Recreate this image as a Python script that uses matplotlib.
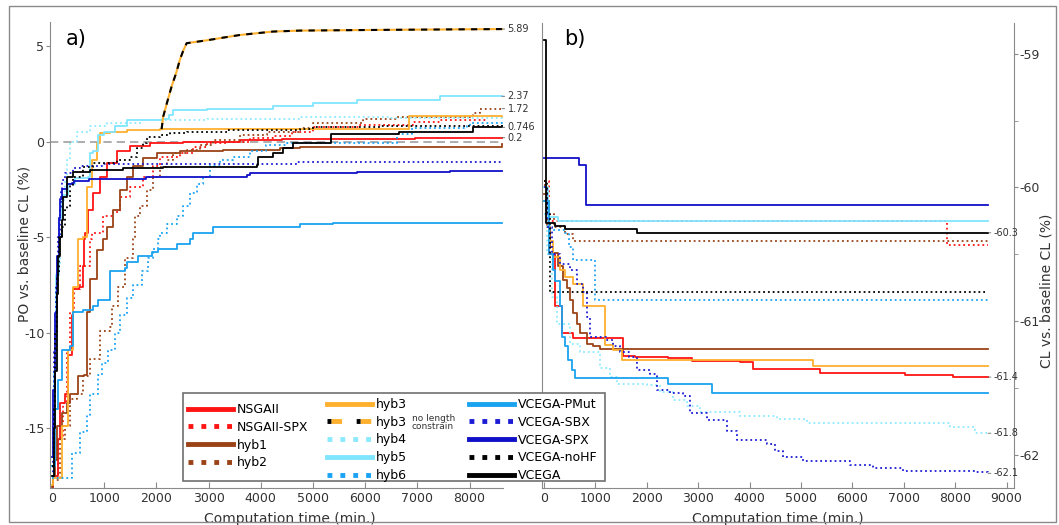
import matplotlib
matplotlib.use("Agg")
import matplotlib.pyplot as plt
from matplotlib.lines import Line2D
from matplotlib.patches import Rectangle
from matplotlib.ticker import MultipleLocator

plt.rcParams["axes.unicode_minus"] = False

# ---------------- panel a) PO vs. baseline CL (%) ----------------
# time (min.) / value pairs
a_nsgaii_t = [0, 20, 121, 153, 249, 313, 377, 409, 520, 600, 620, 632, 696, 792, 920, 1048, 1239, 1494, 1877, 2516, 3600, 4400, 6900, 6950, 8620]
a_nsgaii_v = [-18.2, -17.5, -15.6, -13.7, -13.2, -11.2, -9.1, -7.7, -7.6, -6.5, -5.1, -4.8, -3.6, -2.7, -1.83, -1.13, -0.52, -0.23, -0.09, 0.0, 0.09, 0.12, 0.12, 0.2, 0.2]

a_nsgaii_spx_t = [0, 50, 120, 217, 281, 345, 420, 536, 728, 760, 983, 1175, 1303, 1494, 1750, 1941, 2069, 2452, 2708, 2963, 3346, 3800, 4236, 4600, 5006, 5900, 6920, 7433, 8340]
a_nsgaii_spx_v = [-17.6, -17.4, -15.5, -13.7, -10.9, -8.9, -7.7, -6.5, -5.1, -4.8, -3.9, -3.7, -2.9, -2.36, -1.83, -1.3, -0.79, -0.6, -0.26, -0.09, 0.0, 0.2, 0.3, 0.5, 0.77, 0.87, 1.0, 1.13, 1.2]

a_hyb1_t = [0, 20, 57, 100, 200, 281, 345, 505, 620, 664, 728, 855, 983, 1048, 1175, 1303, 1431, 1558, 1750, 2005, 2452, 3282, 4368, 4750, 8620]
a_hyb1_v = [-18.1, -17.5, -16.7, -14.9, -14.2, -13.7, -13.2, -12.3, -12.2, -8.9, -7.2, -5.7, -5.1, -4.45, -3.6, -2.53, -1.83, -1.3, -0.87, -0.61, -0.52, -0.44, -0.32, -0.26, -0.15]

a_hyb2_t = [0, 153, 249, 345, 473, 600, 728, 920, 1111, 1143, 1271, 1398, 1558, 1590, 1686, 1814, 1941, 2069, 2197, 2324, 2580, 2835, 3091, 3600, 4112, 4750, 5006, 5964, 6603, 8071, 8199, 8620]
a_hyb2_v = [-17.7, -15.6, -14.9, -13.5, -13.2, -12.3, -11.4, -9.9, -9.7, -8.6, -7.6, -6.1, -5.1, -3.9, -3.4, -2.53, -1.83, -1.31, -0.96, -0.61, -0.44, -0.17, 0.09, 0.35, 0.52, 0.7, 0.96, 1.17, 1.31, 1.48, 1.69, 1.72]

a_hyb3_t = [0, 20, 185, 313, 408, 505, 600, 664, 760, 855, 920, 1111, 1431, 2070, 4750, 6820, 6830, 8620]
a_hyb3_v = [-18.0, -17.6, -14.9, -10.9, -7.6, -5.1, -5.0, -2.36, -0.96, -0.09, 0.44, 0.52, 0.61, 0.68, 0.68, 0.64, 1.32, 1.3]

a_hyb3nl_t = [2100, 2130, 2200, 2293, 2380, 2452, 2520, 2580, 2963, 3300, 3600, 4236, 4750, 6000, 7500, 8620]
a_hyb3nl_v = [0.65, 1.3, 2.0, 2.9, 3.6, 4.3, 4.8, 5.15, 5.3, 5.45, 5.58, 5.76, 5.81, 5.84, 5.87, 5.89]

a_hyb4_t = [0, 30, 60, 100, 150, 190, 217, 250, 281, 345, 473, 728, 1048, 1686, 2963, 4750, 6500, 8620]
a_hyb4_v = [-17.5, -13.0, -9.0, -6.5, -4.8, -4.0, -3.05, -2.0, -0.96, 0.0, 0.52, 0.82, 0.96, 1.13, 1.19, 1.26, 1.22, 1.15]

a_hyb5_t = [0, 40, 80, 130, 200, 300, 440, 696, 728, 780, 888, 1000, 1200, 1431, 2101, 2250, 2320, 2963, 4236, 5000, 5837, 7433, 8620]
a_hyb5_v = [-17.0, -12.0, -7.0, -4.0, -2.8, -2.2, -1.9, -1.83, -0.6, -0.5, 0.35, 0.5, 0.8, 1.13, 1.19, 1.4, 1.66, 1.69, 1.87, 2.0, 2.17, 2.37, 2.37]

a_hyb6_t = [0, 377, 536, 664, 728, 888, 951, 1079, 1207, 1303, 1431, 1558, 1718, 1846, 1941, 2037, 2069, 2197, 2389, 2516, 2644, 2772, 2899, 3027, 3218, 3473, 3800, 4100, 4500, 6530, 6600, 6900, 7944, 8000, 8620]
a_hyb6_v = [-17.6, -16.3, -15.2, -14.3, -13.2, -12.2, -11.6, -10.9, -10.0, -9.1, -8.2, -7.5, -6.8, -6.1, -5.6, -5.1, -4.8, -4.3, -3.9, -3.4, -2.7, -2.2, -1.83, -1.3, -0.96, -0.79, -0.5, -0.2, -0.05, -0.05, 0.4, 0.72, 0.8, 0.95, 1.05]

a_pmut_t = [0, 60, 120, 185, 345, 409, 600, 792, 888, 1050, 1111, 1398, 1430, 1654, 1910, 2037, 2389, 2644, 2708, 3091, 3473, 4750, 5389, 8620]
a_pmut_v = [-17.0, -14.0, -12.5, -10.9, -10.7, -8.9, -8.8, -8.6, -8.3, -8.3, -6.8, -6.6, -6.3, -6.0, -5.8, -5.6, -5.35, -5.1, -4.8, -4.5, -4.45, -4.3, -4.28, -4.25]

a_sbx_t = [0, 20, 45, 80, 120, 150, 175, 200, 250, 400, 540, 1000, 4700, 8620]
a_sbx_v = [-17.5, -15.0, -11.0, -7.5, -5.0, -3.5, -2.5, -2.0, -1.66, -1.4, -1.26, -1.17, -1.08, -1.05]

a_spx_t = [0, 25, 50, 90, 130, 160, 200, 280, 377, 420, 700, 1800, 3730, 3800, 5837, 7625, 8620]
a_spx_v = [-16.5, -13.0, -9.0, -6.0, -4.0, -3.0, -2.5, -2.2, -2.18, -2.05, -1.97, -1.83, -1.75, -1.66, -1.6, -1.55, -1.55]

a_nohf_t = [0, 30, 60, 100, 140, 200, 250, 281, 345, 409, 600, 792, 1239, 1494, 1622, 1750, 1814, 2069, 2260, 2580, 3346, 4750, 5000, 6300, 8620]
a_nohf_v = [-17.0, -14.0, -10.0, -7.0, -5.0, -4.5, -3.6, -3.4, -2.3, -1.83, -1.31, -1.13, -0.96, -0.79, -0.35, -0.09, 0.26, 0.35, 0.44, 0.52, 0.61, 0.65, 0.75, 0.82, 0.85]

a_vcega_t = [0, 30, 60, 90, 120, 150, 185, 215, 281, 409, 728, 1366, 2133, 3930, 3953, 4236, 4427, 4619, 5340, 6640, 8070, 8620]
a_vcega_v = [-17.5, -15.0, -12.0, -8.0, -6.0, -5.0, -4.1, -2.9, -1.83, -1.57, -1.48, -1.4, -1.31, -1.22, -0.79, -0.61, -0.35, -0.06, 0.39, 0.5, 0.746, 0.746]

# ---------------- panel b) CL vs. baseline CL (%) ----------------
b_nsgaii_t = [0, 100, 214, 344, 570, 1543, 1780, 2419, 2873, 3813, 4073, 5370, 7023, 7963, 8640]
b_nsgaii_v = [-60.1, -60.5, -60.89, -61.09, -61.13, -61.26, -61.27, -61.28, -61.3, -61.31, -61.36, -61.39, -61.405, -61.42, -61.42]

b_nsgaii_spx_t = [0, 91, 7846, 8640]
b_nsgaii_spx_v = [-59.95, -60.25, -60.43, -60.43]

b_hyb1_t = [0, 60, 120, 181, 279, 376, 441, 506, 570, 636, 700, 830, 960, 1089, 8640]
b_hyb1_v = [-60.05, -60.3, -60.45, -60.49, -60.59, -60.69, -60.75, -60.84, -60.94, -61.02, -61.09, -61.17, -61.19, -61.21, -61.21]

b_hyb2_t = [0, 60, 200, 400, 567, 8640]
b_hyb2_v = [-59.98, -60.2, -60.3, -60.35, -60.405, -60.405]

b_hyb3_t = [0, 100, 181, 311, 408, 570, 765, 1187, 1349, 1510, 5227, 8640]
b_hyb3_v = [-60.1, -60.4, -60.52, -60.62, -60.67, -60.72, -60.89, -61.18, -61.22, -61.29, -61.335, -61.335]

b_hyb4_t = [0, 60, 150, 246, 506, 700, 1089, 1284, 1414, 2000, 2257, 2516, 2775, 3035, 3813, 4527, 5110, 7899, 8385, 8640]
b_hyb4_v = [-60.2, -60.5, -60.82, -61.02, -61.17, -61.23, -61.35, -61.42, -61.47, -61.48, -61.53, -61.59, -61.64, -61.68, -61.71, -61.73, -61.76, -61.79, -61.84, -61.84]

b_hyb5_t = [0, 70, 280, 8640]
b_hyb5_v = [-60.0, -60.22, -60.255, -60.255]

b_hyb6_t = [0, 50, 120, 400, 480, 560, 990, 8640]
b_hyb6_v = [-60.1, -60.28, -60.32, -60.34, -60.45, -60.54, -60.84, -60.84]

b_pmut_t = [0, 100, 181, 214, 311, 344, 408, 473, 538, 603, 2419, 3275, 8640]
b_pmut_v = [-60.1, -60.5, -60.62, -60.7, -60.89, -61.12, -61.19, -61.29, -61.37, -61.43, -61.47, -61.54, -61.54]

b_sbx_t = [0, 60, 150, 311, 506, 636, 765, 830, 895, 1200, 1349, 1480, 1660, 1802, 2062, 2192, 2451, 2700, 2840, 3165, 3554, 3748, 4332, 4500, 4656, 5045, 5953, 6407, 6990, 8400, 8640]
b_sbx_v = [-60.0, -60.3, -60.5, -60.57, -60.62, -60.72, -60.78, -60.97, -61.12, -61.14, -61.19, -61.23, -61.27, -61.37, -61.4, -61.52, -61.54, -61.56, -61.69, -61.74, -61.82, -61.89, -61.92, -61.97, -62.02, -62.05, -62.08, -62.1, -62.12, -62.13, -62.14]

b_spx_t = [0, 687, 811, 8640]
b_spx_v = [-59.78, -59.83, -60.13, -60.13]

b_nohf_t = [0, 60, 117, 8640]
b_nohf_v = [-59.95, -60.2, -60.785, -60.785]

b_vcega_t = [0, 30, 214, 408, 1803, 8640]
b_vcega_v = [-58.9, -60.27, -60.29, -60.31, -60.34, -60.34]

# end-of-line value labels
a_end_labels = [("hyb3nl", "5.89"), ("hyb5", "2.37"), ("hyb2", "1.72"), ("VCEGA", "0.746"), ("NSGAII", "0.2")]
b_end_labels = [("VCEGA", "-60.3"), ("NSGAII", "-61.4"), ("hyb4", "-61.8"), ("VCEGA-SBX", "-62.1")]

# colour / line style per method
styles = {
    "NSGAII": ("#ff1414", "-"),
    "NSGAII-SPX": ("#ff1414", ":"),
    "hyb1": ("#9b4317", "-"),
    "hyb2": ("#9b4317", ":"),
    "hyb3": ("#ffb02e", "-"),
    "hyb4": ("#8ceaff", ":"),
    "hyb5": ("#80e6ff", "-"),
    "hyb6": ("#1aa3f5", ":"),
    "VCEGA-PMut": ("#1aa3f0", "-"),
    "VCEGA-SBX": ("#1c1cd6", ":"),
    "VCEGA-SPX": ("#1010c8", "-"),
    "VCEGA-noHF": ("black", ":"),
    "VCEGA": ("black", "-"),
}

series_a = {
    "NSGAII": (a_nsgaii_t, a_nsgaii_v), "NSGAII-SPX": (a_nsgaii_spx_t, a_nsgaii_spx_v),
    "hyb1": (a_hyb1_t, a_hyb1_v), "hyb2": (a_hyb2_t, a_hyb2_v), "hyb3": (a_hyb3_t, a_hyb3_v),
    "hyb4": (a_hyb4_t, a_hyb4_v), "hyb5": (a_hyb5_t, a_hyb5_v), "hyb6": (a_hyb6_t, a_hyb6_v),
    "VCEGA-PMut": (a_pmut_t, a_pmut_v), "VCEGA-SBX": (a_sbx_t, a_sbx_v), "VCEGA-SPX": (a_spx_t, a_spx_v),
    "VCEGA-noHF": (a_nohf_t, a_nohf_v), "VCEGA": (a_vcega_t, a_vcega_v),
}
series_b = {
    "NSGAII": (b_nsgaii_t, b_nsgaii_v), "NSGAII-SPX": (b_nsgaii_spx_t, b_nsgaii_spx_v),
    "hyb1": (b_hyb1_t, b_hyb1_v), "hyb2": (b_hyb2_t, b_hyb2_v), "hyb3": (b_hyb3_t, b_hyb3_v),
    "hyb4": (b_hyb4_t, b_hyb4_v), "hyb5": (b_hyb5_t, b_hyb5_v), "hyb6": (b_hyb6_t, b_hyb6_v),
    "VCEGA-PMut": (b_pmut_t, b_pmut_v), "VCEGA-SBX": (b_sbx_t, b_sbx_v), "VCEGA-SPX": (b_spx_t, b_spx_v),
    "VCEGA-noHF": (b_nohf_t, b_nohf_v), "VCEGA": (b_vcega_t, b_vcega_v),
}

W, H = 1059, 525
fig = plt.figure(figsize=(W / 100, H / 100), dpi=100)

# outer frame
fig.add_artist(Rectangle((9 / W, 3 / H), (1056 - 9) / W, (510 - 3 + 9) / H,
                         transform=fig.transFigure, fill=False, edgecolor="#8a8a8a", lw=1.0))

ax_a = fig.add_axes([50 / W, 1 - 488 / H, (503 - 50) / W, (488 - 22) / H])
ax_b = fig.add_axes([542 / W, 1 - 488 / H, (1014 - 542) / W, (488 - 23) / H])

LW = 1.3
for name, (t, v) in series_a.items():
    c, ls = styles[name]
    ax_a.plot(t, v, color=c, ls=ls, lw=LW, drawstyle="steps-post")
# hyb3 without length constraint: orange/black dashed
ax_a.plot(a_hyb3nl_t, a_hyb3nl_v, color=styles["hyb3"][0], lw=1.5)
ax_a.plot(a_hyb3nl_t, a_hyb3nl_v, color="black", lw=1.5, ls=(0, (3, 3)))
ax_a.axhline(0, color="#a0a0a0", lw=1.2, ls=(0, (5, 3)), zorder=1)

for name, (t, v) in series_b.items():
    c, ls = styles[name]
    ax_b.plot(t, v, color=c, ls=ls, lw=LW, drawstyle="steps-post")


def end_label(ax, t, v, txt):
    ax.annotate(txt, xy=(t[-1], v[-1]), xytext=(4, 0), textcoords="offset points",
                fontsize=7, color="#333333", va="center",
                arrowprops=dict(arrowstyle="-", color="#666666", lw=0.6, shrinkA=0, shrinkB=0))


for key, txt in a_end_labels:
    t, v = (a_hyb3nl_t, a_hyb3nl_v) if key == "hyb3nl" else series_a[key]
    end_label(ax_a, t, v, txt)
for key, txt in b_end_labels:
    t, v = series_b[key]
    end_label(ax_b, t, v, txt)

# axes a
ax_a.set_xlim(-38, 8640)
ax_a.set_ylim(-18.14, 6.26)
ax_a.set_xticks(range(0, 8001, 1000))
ax_a.set_yticks([-15, -10, -5, 0, 5])
ax_a.spines[["top", "right"]].set_visible(False)
ax_a.set_ylabel("PO vs. baseline CL (%)", fontsize=10, color="#333333")
ax_a.yaxis.set_label_coords(-0.04, 0.524)
ax_a.set_xlabel("Computation time (min.)", fontsize=10, color="#333333")
ax_a.xaxis.set_label_coords(0.53, -0.051)
ax_a.text(0.035, 0.985, "a)", transform=ax_a.transAxes, fontsize=15, va="top")

# axes b
ax_b.set_xlim(-39, 9144)
ax_b.set_ylim(-62.25, -58.77)
ax_b.set_xticks(range(0, 9001, 1000))
ax_b.yaxis.tick_right()
ax_b.yaxis.set_major_locator(MultipleLocator(1))
ax_b.yaxis.set_minor_locator(MultipleLocator(0.5))
ax_b.spines["top"].set_visible(False)
ax_b.yaxis.set_label_position("right")
ax_b.set_ylabel("CL vs. baseline CL (%)", fontsize=10, color="#333333")
ax_b.yaxis.set_label_coords(1.055, 0.425)
ax_b.set_xlabel("Computation time (min.)", fontsize=10, color="#333333")
ax_b.xaxis.set_label_coords(0.5, -0.051)
ax_b.text(0.047, 0.987, "b)", transform=ax_b.transAxes, fontsize=15, va="top")

for ax in (ax_a, ax_b):
    for sp in ax.spines.values():
        sp.set_color("#8a8a8a")
    ax.tick_params(axis="x", direction="in", length=4, pad=3, labelsize=9,
                   colors="#8a8a8a", labelcolor="#333333")
    ax.tick_params(axis="y", which="both", direction="out", length=3, pad=1,
                   labelsize=9, colors="#8a8a8a", labelcolor="#333333")


# legend: one box, three columns placed separately
def proxy(name):
    c, ls = styles[name]
    return Line2D([], [], color=c, ls=ls, lw=3.5)


nl_orange = Line2D([], [], color=styles["hyb3"][0], lw=3.5, ls=(5.2, (2.2, 3.8)))
nl_black = Line2D([], [], color="black", lw=3.5, ls=(0, (0.8, 5.2)))

col1 = ["NSGAII", "NSGAII-SPX", "hyb1", "hyb2"]
col2 = ["hyb3", "hyb3", "hyb4", "hyb5", "hyb6"]
col3 = ["VCEGA-PMut", "VCEGA-SBX", "VCEGA-SPX", "VCEGA-noHF", "VCEGA"]

fig.add_artist(Rectangle((183 / W, 1 - 481 / H), (605 - 183) / W, (481 - 393) / H,
                         transform=fig.transFigure, facecolor="white", edgecolor="#707070",
                         lw=1.2, zorder=4))

leg_kw = dict(loc="upper left", ncol=1, fontsize=9, frameon=False, borderaxespad=0,
              borderpad=0.4, handlelength=3.6, handletextpad=0.3, labelspacing=0.38)
h2 = [proxy("hyb3"), (nl_orange, nl_black), proxy("hyb4"), proxy("hyb5"), proxy("hyb6")]
legs = [
    fig.legend([proxy(n) for n in col1], col1, bbox_to_anchor=(183 / W, 1 - 398 / H), **leg_kw),
    fig.legend(h2, col2, bbox_to_anchor=(322 / W, 1 - 393 / H), **leg_kw),
    fig.legend([proxy(n) for n in col3], col3, bbox_to_anchor=(464 / W, 1 - 393 / H), **leg_kw),
]
for lg in legs:
    lg.set_zorder(6)

fig.canvas.draw()
bb_nl = legs[1].get_texts()[1].get_window_extent()
inv = fig.transFigure.inverted()
x_fig, y_fig = inv.transform((bb_nl.x1 + 5, (bb_nl.y0 + bb_nl.y1) / 2))
fig.text(x_fig, y_fig, "no length\nconstrain", fontsize=6.5, va="center", ha="left",
         linespacing=0.85, color="#333333", zorder=10)

fig.savefig("out.png", dpi=100)
print("saved out.png")
